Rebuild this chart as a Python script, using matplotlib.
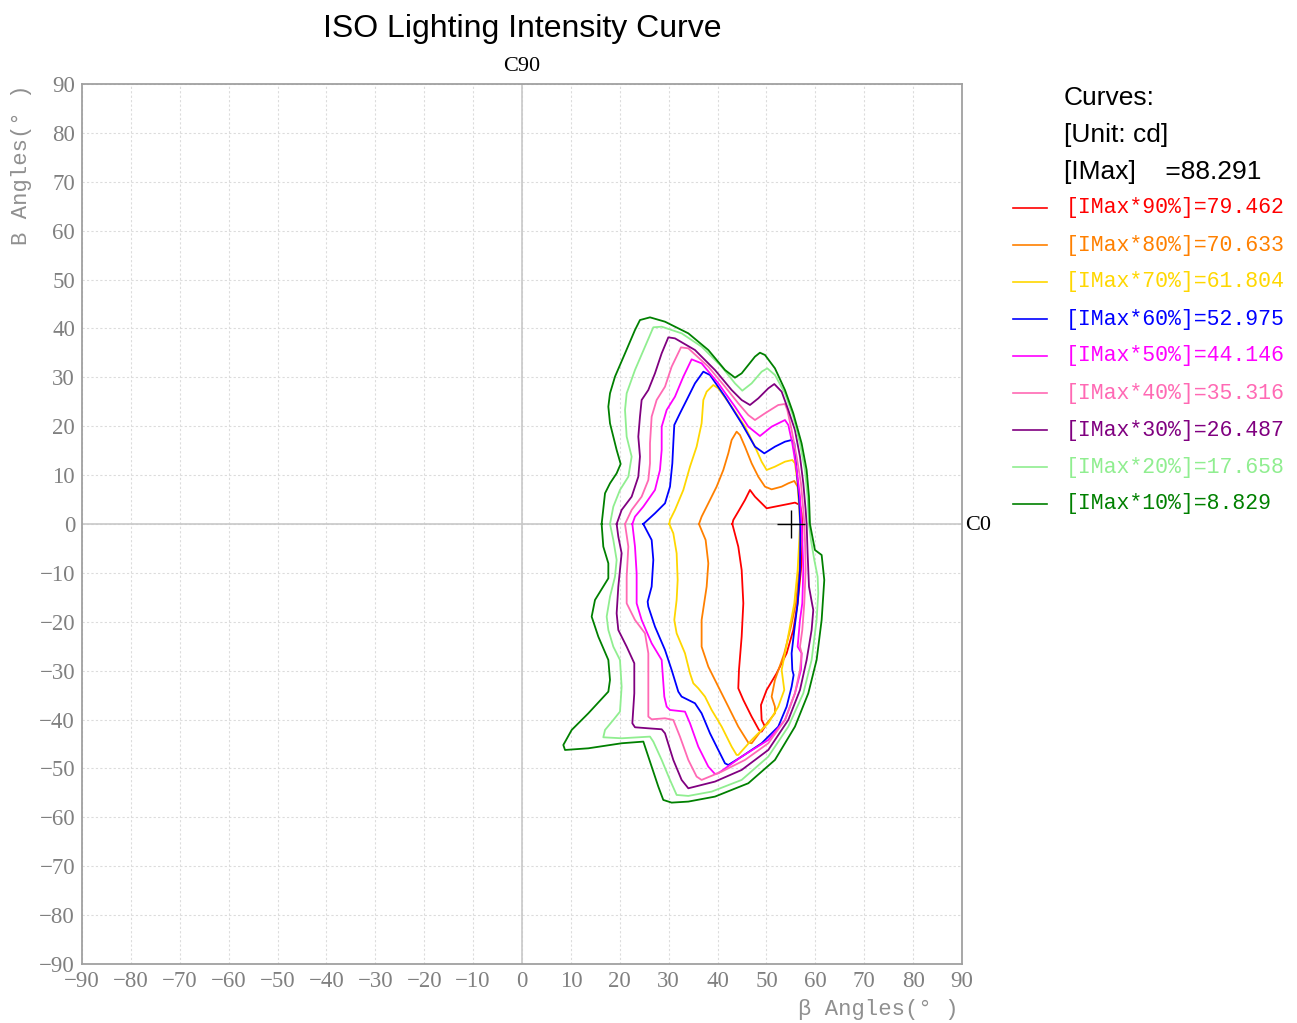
import matplotlib
matplotlib.use("Agg")
import matplotlib.pyplot as plt
from matplotlib.lines import Line2D

# ---------------- data ----------------
imax = 88.291
percents = [90, 80, 70, 60, 50, 40, 30, 20, 10]
level_values = [79.462, 70.633, 61.804, 52.975, 44.146, 35.316, 26.487, 17.658, 8.829]
level_colors = ["#ff0000", "#ff8000", "#ffd700", "#0000ff", "#ff00ff",
                "#ff69b4", "#800080", "#90ee90", "#008000"]

c90_x = [43.02, 43.22, 44.24, 45.61, 46.63, 47.65, 49.02, 50.04, 51.74, 54.47, 55.83, 56.86, 57.2, 57.33,
         57.33, 57.06, 56.38, 55.49, 54.13, 52.08, 50.04, 48.88, 49.02, 49.7, 49.02, 48.47, 46.97, 45.27,
         44.24, 44.38, 44.93, 45.27, 44.93, 44.24, 43.02]
c90_y = [0, 0.82, 2.55, 4.91, 6.96, 5.59, 4.23, 3.21, 3.55, 4.09, 4.37, 3.89, 2.18, 0,
         -3.27, -9.41, -16.22, -21.68, -26.45, -30.54, -33.95, -37.02, -40.08, -41.45, -42.47, -42.13, -39.4, -35.99,
         -33.61, -29.86, -23.04, -16.22, -9.41, -4.63, 0]

c80_x = [36.2, 36.74, 38.11, 39.81, 41.18, 42.2, 42.88, 43.9, 44.58, 45.61, 46.97, 48.33, 49.7, 51.06, 53.11,
         54.47, 55.7, 56.38, 56.86, 57.06, 57.06, 56.72, 56.04, 55.01, 53.65, 51.74, 51.06, 51.74, 51.74, 49.02,
         46.97, 46.29, 44.24, 42.2, 40.15, 38.11, 36.74, 36.74, 37.77, 38.11, 37.56, 36.2]
c80_y = [0, 1.5, 4.23, 7.64, 11.05, 14.45, 17.18, 18.89, 18.2, 15.82, 12.41, 9.68, 7.64, 7.09, 7.64,
         8.32, 8.8, 7.64, 2.87, 0, -3.27, -9.41, -16.22, -20.99, -26.45, -31.9, -35.31, -37.36, -38.72, -42.13,
         -44.85, -44.72, -41.45, -37.36, -33.27, -29.18, -25.09, -19.63, -12.81, -8.04, -3.27, 0]

c70_x = [30.13, 30.27, 31.29, 33.0, 34.36, 35.72, 36.74, 37.09, 37.77, 39.13, 40.15, 42.88, 45.61, 47.65,
         49.02, 50.04, 51.74, 53.79, 55.29, 55.83, 56.38, 56.72, 56.86, 56.72, 56.38, 55.7, 54.81, 53.92, 53.11,
         53.65, 52.42, 50.38, 46.97, 44.24, 43.9, 42.88, 40.84, 38.79, 37.43, 36.06, 35.04, 34.36, 33.34, 31.63,
         31.15, 31.63, 31.84, 31.63, 30.95, 30.13]
c70_y = [0, 0.82, 2.87, 6.96, 11.73, 15.82, 20.59, 25.36, 27.07, 28.43, 27.75, 24.0, 19.91, 15.82,
         12.75, 11.05, 11.73, 12.75, 13.09, 12.41, 8.32, 2.87, 0, -3.27, -9.41, -16.22, -20.99, -25.77, -29.86,
         -33.95, -37.36, -40.76, -44.17, -47.24, -47.24, -45.54, -41.45, -38.04, -35.31, -33.61, -32.58, -30.54,
         -26.45, -22.36, -19.63, -15.54, -11.45, -5.99, -1.91, 0]

c60_x = [24.81, 27.2, 29.25, 30.27, 30.75, 30.95, 31.15, 32.31, 33.68, 35.38, 37.09, 38.45, 41.52, 44.93,
         47.65, 49.56, 51.74, 53.79, 55.15, 55.7, 56.17, 56.65, 56.92, 56.92, 56.86, 56.38, 55.7, 55.15, 55.29,
         55.56, 55.15, 54.13, 52.42, 49.02, 44.93, 42.2, 41.52, 40.15, 38.45, 36.74, 35.38, 34.02, 32.65, 31.97,
         30.61, 29.25, 27.2, 25.84, 25.7, 26.52, 26.86, 26.52, 24.81]
c60_y = [0, 2.19, 4.23, 7.64, 12.41, 16.5, 20.25, 22.64, 25.36, 28.77, 31.16, 30.48, 26.05, 20.59,
         15.82, 14.45, 15.82, 16.84, 17.18, 16.5, 11.05, 5.59, 0, -3.27, -9.41, -16.22, -21.68, -26.45, -29.86,
         -30.88, -33.27, -37.36, -41.45, -44.85, -47.58, -49.29, -48.95, -46.22, -42.81, -38.72, -36.67, -35.99,
         -35.31, -34.29, -29.86, -25.77, -21.0, -16.9, -15.88, -12.81, -7.36, -3.27, 0]

c50_x = [22.57, 23.11, 24.81, 27.2, 28.22, 28.57, 28.57, 29.59, 31.29, 33.0, 34.7, 36.74, 40.15, 43.56,
         46.29, 48.67, 51.06, 53.79, 54.47, 55.29, 56.17, 56.86, 57.2, 57.33, 57.54, 57.33, 56.86, 56.38, 57.2,
         57.06, 55.83, 53.79, 50.38, 44.93, 40.15, 39.47, 38.11, 36.06, 34.36, 33.34, 30.27, 29.59, 29.11, 28.57,
         26.52, 24.47, 23.45, 23.45, 23.11, 22.57]
c50_y = [0, 1.5, 3.55, 6.96, 11.05, 15.14, 19.91, 23.32, 26.05, 30.14, 33.68, 32.86, 28.77, 24.0,
         19.91, 18.0, 19.91, 21.27, 20.25, 16.5, 11.05, 5.59, 0, -3.27, -9.41, -16.22, -19.63, -25.09, -26.45,
         -29.86, -34.63, -40.08, -44.17, -47.58, -50.99, -51.13, -49.63, -45.54, -40.76, -38.38, -38.04, -37.36,
         -35.31, -27.81, -24.4, -19.63, -16.22, -10.09, -4.63, 0]

c40_x = [21.07, 22.43, 24.47, 25.84, 26.18, 26.18, 26.52, 27.54, 29.25, 30.61, 32.52, 34.02, 38.11, 41.52,
         44.24, 46.29, 47.65, 49.7, 52.42, 53.79, 54.27, 55.15, 56.17, 57.06, 57.54, 57.74, 57.88, 58.02, 57.74,
         57.33, 56.86, 57.2, 56.86, 55.83, 53.79, 50.38, 45.61, 40.84, 36.74, 35.72, 34.02, 32.31, 30.95, 29.25,
         26.52, 25.84, 25.84, 25.84, 25.16, 23.11, 21.41, 21.41, 21.75, 21.07]
c40_y = [0, 2.87, 5.59, 9.0, 12.41, 16.5, 21.96, 25.36, 28.09, 32.18, 36.13, 35.93, 32.18, 28.09,
         24.68, 22.29, 21.27, 22.64, 24.34, 24.55, 23.32, 19.23, 13.78, 8.32, 2.87, 0, -3.27, -9.41, -16.22,
         -21.68, -25.09, -26.45, -29.86, -34.63, -40.08, -44.85, -48.26, -50.65, -52.35, -51.67, -48.26, -43.49,
         -40.08, -39.74, -39.95, -39.4, -36.67, -26.45, -22.36, -19.63, -16.22, -10.77, -4.63, 0]

c30_x = [19.36, 20.38, 22.43, 23.79, 24.13, 23.79, 24.13, 24.47, 25.84, 27.2, 28.57, 29.93, 31.29, 35.38,
         39.47, 42.88, 44.93, 46.63, 48.33, 50.38, 51.61, 53.11, 54.47, 55.83, 56.86, 57.54, 58.02, 58.22, 58.42,
         58.7, 59.38, 59.58, 59.24, 58.22, 56.86, 54.47, 50.38, 44.93, 39.47, 35.38, 34.02, 32.65, 30.95, 29.25,
         28.57, 25.84, 23.11, 22.57, 22.97, 22.97, 21.41, 19.7, 19.36, 19.7, 20.38, 19.7, 19.36]
c30_y = [0, 2.87, 5.59, 9.68, 13.78, 17.86, 21.96, 25.36, 27.41, 30.82, 34.91, 38.18, 37.97, 35.59,
         31.5, 27.41, 25.36, 24.34, 25.7, 27.75, 28.63, 27.07, 23.32, 19.23, 13.78, 8.32, 2.87, 0, -5.99,
         -12.81, -16.56, -17.59, -21.68, -27.81, -33.95, -40.08, -46.22, -50.31, -52.69, -53.72, -54.06, -52.35,
         -48.26, -42.81, -41.99, -41.79, -41.58, -40.76, -34.63, -28.49, -25.09, -21.68, -18.27, -12.81, -5.99,
         -2.59, 0]

c20_x = [18.0, 18.68, 20.04, 21.75, 22.43, 21.41, 21.07, 21.41, 23.11, 25.16, 26.86, 28.57, 32.65, 36.74,
         40.84, 43.56, 45.06, 46.97, 49.02, 50.17, 51.74, 53.79, 55.49, 56.86, 57.88, 58.42, 58.7, 59.1, 59.79,
         60.47, 60.6, 60.26, 59.24, 57.54, 54.47, 50.38, 44.93, 38.79, 34.02, 31.63, 30.27, 28.57, 26.86, 26.18,
         20.38, 16.63, 16.98, 18.68, 20.04, 20.38, 20.04, 18.68, 17.66, 17.32, 18.0, 19.02, 19.36, 18.68, 18.0]
c20_y = [0, 3.55, 6.96, 9.68, 13.78, 17.86, 23.32, 26.73, 31.5, 36.27, 40.23, 40.36, 39.0, 36.27,
         32.18, 28.77, 27.27, 28.77, 31.16, 31.84, 30.48, 26.73, 21.96, 16.5, 11.05, 5.59, 0, -3.27, -7.36,
         -10.77, -14.18, -19.63, -27.81, -34.63, -41.45, -47.58, -52.35, -54.74, -55.62, -55.42, -52.35, -48.26,
         -44.51, -43.49, -43.83, -43.63, -42.13, -40.08, -38.38, -33.27, -27.81, -25.09, -21.68, -18.95, -14.86,
         -10.77, -7.36, -3.27, 0]

c10_x = [16.29, 16.98, 18.0, 19.36, 20.18, 19.36, 18.0, 17.66, 18.0, 19.02, 21.07, 23.11, 24.13, 26.18,
         29.25, 34.02, 38.11, 41.52, 43.56, 44.93, 47.65, 48.67, 49.7, 51.74, 53.79, 55.49, 57.19, 58.22, 58.7,
         58.9, 59.92, 61.29, 61.83, 61.29, 60.26, 58.56, 55.83, 51.74, 46.29, 39.47, 34.02, 30.61, 28.9, 27.88,
         26.52, 25.16, 24.82, 20.38, 13.57, 8.8, 8.45, 10.16, 13.57, 17.66, 18.0, 17.66, 15.61, 14.25, 14.93,
         17.66, 17.66, 16.63, 16.29]
c10_y = [0, 6.28, 8.32, 10.37, 12.28, 15.14, 20.59, 24.0, 26.73, 30.14, 34.9, 39.68, 41.72, 42.27,
         41.38, 39.0, 35.59, 31.5, 29.93, 30.82, 34.23, 35.04, 34.57, 31.84, 27.41, 22.64, 16.5, 11.05, 5.59,
         0, -5.32, -6.34, -11.45, -19.63, -27.81, -34.63, -41.45, -48.26, -53.03, -55.76, -56.78, -56.99, -56.44,
         -53.71, -49.63, -45.54, -44.51, -44.85, -45.88, -46.22, -45.2, -42.13, -38.72, -34.29, -31.9, -27.81,
         -23.04, -18.95, -15.54, -11.11, -8.04, -4.63, 0]

curves_x = [c90_x, c80_x, c70_x, c60_x, c50_x, c40_x, c30_x, c20_x, c10_x]
curves_y = [c90_y, c80_y, c70_y, c60_y, c50_y, c40_y, c30_y, c20_y, c10_y]

max_point = (55.0, 0.0)
ticks = list(range(-90, 91, 10))

# ---------------- figure ----------------
W, H = 1297, 1023
fig = plt.figure(figsize=(W / 100, H / 100), dpi=100)
fig.patch.set_facecolor("white")

def fx(px):
    return px / W

def fy(py):
    return 1 - py / H

ax = fig.add_axes([fx(82), fy(964), fx(962) - fx(82), fy(84) - fy(964)])
ax.set_xlim(-90, 90)
ax.set_ylim(-90, 90)
ax.set_xticks(ticks)
ax.set_yticks(ticks)
ax.grid(True, color="#dcdcdc", linestyle=(0, (2, 2)), linewidth=0.8)
ax.set_axisbelow(True)
ax.axhline(0, color="#c8c8c8", linewidth=1.2, zorder=1)
ax.axvline(0, color="#c8c8c8", linewidth=1.2, zorder=1)
for s in ax.spines.values():
    s.set_color("#a0a0a0")
    s.set_linewidth(1.3)
ax.tick_params(length=0, pad=5, labelsize=16.5, labelcolor="#808080")
ax.set_xticklabels([str(t).replace("-", "\u2212") for t in ticks])
ax.set_yticklabels([str(t).replace("-", "\u2212") for t in ticks])
for lab in ax.get_xticklabels() + ax.get_yticklabels():
    lab.set_family("Liberation Serif")

for xs, ys, col in zip(curves_x, curves_y, level_colors):
    ax.plot(xs, ys, color=col, linewidth=1.3, zorder=3, solid_joinstyle="round")

ax.plot([max_point[0]], [max_point[1]], marker="+", markersize=20,
        markeredgewidth=1.0, color="black", zorder=4)

# titles and labels
fig.text(fx(522), fy(29), "ISO Lighting Intensity Curve", ha="center", va="center",
         fontsize=23, family="Liberation Sans", color="black")
fig.text(fx(522), fy(67), "C90", ha="center", va="center", fontsize=16,
         family="Liberation Serif", color="black")
fig.text(fx(965), fy(525), "C0", ha="left", va="center", fontsize=16,
         family="Liberation Serif", color="black")
fig.text(fx(22), fy(165), "B Angles(° )", ha="center", va="center", rotation=90,
         fontsize=16, family="Liberation Mono", color="#909090")
fig.text(fx(959), fy(1010), "β Angles(° )", ha="right", va="center",
         fontsize=16, family="Liberation Mono", color="#909090")

# legend
fig.text(fx(1064), fy(98), "Curves:", ha="left", va="center", fontsize=19,
         family="Liberation Sans", color="black")
fig.text(fx(1064), fy(135), "[Unit: cd]", ha="left", va="center", fontsize=19,
         family="Liberation Sans", color="black")
fig.text(fx(1064), fy(172), f"[IMax]    ={imax}", ha="left", va="center", fontsize=19,
         family="Liberation Sans", color="black")
for i, (p, v, col) in enumerate(zip(percents, level_values, level_colors)):
    yy = 208 + 37 * i
    fig.add_artist(Line2D([fx(1013), fx(1047)], [fy(yy), fy(yy)], color=col, linewidth=1.2))
    fig.text(fx(1066), fy(yy), f"[IMax*{p}%]={v}", ha="left", va="center",
             fontsize=15.5, family="Liberation Mono", color=col)

fig.savefig("out.png", dpi=100)
